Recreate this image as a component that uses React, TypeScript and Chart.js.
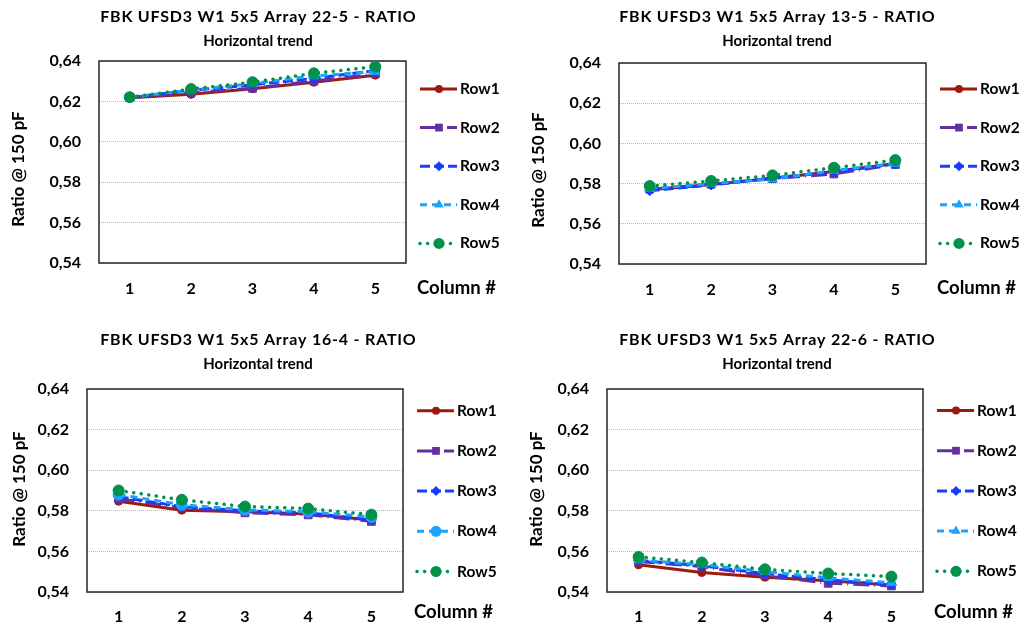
import React, { useEffect, useRef } from 'react';
import { Chart, registerables } from 'chart.js';
Chart.register(...registerables);

// ---------- data ----------
const columns = ['1', '2', '3', '4', '5'];
const rowNames = ['Row1', 'Row2', 'Row3', 'Row4', 'Row5'];
const yMin = 0.54;
const yMax = 0.64;
const yStep = 0.02;
const subtitle = 'Horizontal trend';
const xAxisLabel = 'Column #';
const yAxisLabel = 'Ratio @ 150 pF';

const title22_5 = 'FBK UFSD3 W1 5x5 Array 22-5 - RATIO';
const a22_5_row1 = [0.6218, 0.6235, 0.6263, 0.6295, 0.633];
const a22_5_row2 = [0.6219, 0.6243, 0.6265, 0.6301, 0.6336];
const a22_5_row3 = [0.622, 0.6254, 0.6282, 0.6314, 0.6352];
const a22_5_row4 = [0.622, 0.6256, 0.6288, 0.6326, 0.6347];
const a22_5_row5 = [0.6221, 0.6261, 0.6295, 0.6339, 0.6372];

const title13_5 = 'FBK UFSD3 W1 5x5 Array 13-5 - RATIO';
const a13_5_row1 = [0.577, 0.5795, 0.5826, 0.586, 0.59];
const a13_5_row2 = [0.5772, 0.5797, 0.5825, 0.5848, 0.5895];
const a13_5_row3 = [0.5765, 0.5793, 0.5828, 0.5858, 0.5898];
const a13_5_row4 = [0.5775, 0.58, 0.5822, 0.5865, 0.59];
const a13_5_row5 = [0.5788, 0.5813, 0.5841, 0.5879, 0.5917];

const title16_4 = 'FBK UFSD3 W1 5x5 Array 16-4 - RATIO';
const a16_4_row1 = [0.5847, 0.5803, 0.5795, 0.5784, 0.5755];
const a16_4_row2 = [0.586, 0.5815, 0.579, 0.578, 0.5748];
const a16_4_row3 = [0.5869, 0.582, 0.58, 0.579, 0.5755];
const a16_4_row4 = [0.588, 0.583, 0.5805, 0.5795, 0.577];
const a16_4_row5 = [0.59, 0.5854, 0.5821, 0.5811, 0.5781];

const title22_6 = 'FBK UFSD3 W1 5x5 Array 22-6 - RATIO';
const a22_6_row1 = [0.5534, 0.5496, 0.5473, 0.5455, 0.5435];
const a22_6_row2 = [0.555, 0.5525, 0.548, 0.5443, 0.543];
const a22_6_row3 = [0.5555, 0.553, 0.549, 0.546, 0.5435];
const a22_6_row4 = [0.5557, 0.5535, 0.55, 0.547, 0.5445];
const a22_6_row5 = [0.5573, 0.5545, 0.5512, 0.5491, 0.5476];

// ---------- styles ----------
const FONT = 'Lato, "Open Sans", sans-serif';
const rowStyles = [
  { color: '#9B1B0E', dash: [] as number[], point: 'circle', r: 4, width: 3, cap: 'butt' },
  { color: '#6430A0', dash: [16, 5, 1, 5], point: 'rect', r: 5.5, width: 3, cap: 'butt' },
  { color: '#1A3CFF', dash: [10, 4], point: 'rectRot', r: 5, width: 3, cap: 'butt' },
  { color: '#1AA3FF', dash: [7, 5], point: 'triangle', r: 5.5, width: 3, cap: 'butt' },
  { color: '#00924A', dash: [0.1, 7.5], point: 'circle', r: 5.5, width: 3.5, cap: 'round' },
];

const W = 512;
const H = 313;

type Cfg = {
  x: number; y: number; title: string; rows: number[][]; row4Circle?: boolean;
  L: number; R: number; T: number; B: number;
  titleX: number; titleY1: number; titleY2: number;
  yTitleX: number; yTitleY: number;
  legendY0: number; legendStep: number; xLabelY: number; tickPad: number;
};

const panels: Cfg[] = [
  {
    x: 0, y: 0, title: title22_5,
    rows: [a22_5_row1, a22_5_row2, a22_5_row3, a22_5_row4, a22_5_row5],
    L: 99, R: 406, T: 61, B: 263, titleX: 258, titleY1: 17, titleY2: 41,
    yTitleX: 19, yTitleY: 169, legendY0: 89, legendStep: 38.6, xLabelY: 288, tickPad: 16,
  },
  {
    x: 512, y: 0, title: title13_5,
    rows: [a13_5_row1, a13_5_row2, a13_5_row3, a13_5_row4, a13_5_row5],
    L: 107, R: 414, T: 63, B: 264, titleX: 265, titleY1: 17, titleY2: 41,
    yTitleX: 27, yTitleY: 170, legendY0: 89, legendStep: 38.6, xLabelY: 288, tickPad: 16,
  },
  {
    x: 0, y: 313, title: title16_4, row4Circle: true,
    rows: [a16_4_row1, a16_4_row2, a16_4_row3, a16_4_row4, a16_4_row5],
    L: 87, R: 403, T: 76, B: 279, titleX: 258, titleY1: 27, titleY2: 51,
    yTitleX: 20, yTitleY: 176, legendY0: 97.7, legendStep: 40.2, xLabelY: 299, tickPad: 15,
  },
  {
    x: 512, y: 313, title: title22_6,
    rows: [a22_6_row1, a22_6_row2, a22_6_row3, a22_6_row4, a22_6_row5],
    L: 95, R: 411, T: 76, B: 279, titleX: 265, titleY1: 27, titleY2: 51,
    yTitleX: 25, yTitleY: 176, legendY0: 97.5, legendStep: 40.2, xLabelY: 299, tickPad: 15,
  },
];

function drawMarker(ctx: CanvasRenderingContext2D, style: string, x: number, y: number, r: number) {
  ctx.beginPath();
  if (style === 'circle') ctx.arc(x, y, r, 0, Math.PI * 2);
  else if (style === 'rect') {
    const s = r * Math.SQRT1_2;
    ctx.rect(x - s, y - s, 2 * s, 2 * s);
  } else if (style === 'rectRot') {
    ctx.moveTo(x - r, y); ctx.lineTo(x, y - r); ctx.lineTo(x + r, y); ctx.lineTo(x, y + r); ctx.closePath();
  } else if (style === 'triangle') {
    const a = (2 * Math.PI) / 3;
    ctx.moveTo(x, y - r);
    ctx.lineTo(x + r * Math.sin(a), y - r * Math.cos(a));
    ctx.lineTo(x + r * Math.sin(2 * a), y - r * Math.cos(2 * a));
    ctx.closePath();
  }
  ctx.fill();
}

const decorPlugin = {
  id: 'decor',
  beforeDatasetsDraw(chart: any) {
    const { ctx, chartArea: a } = chart;
    ctx.save();
    ctx.strokeStyle = '#262626';
    ctx.lineWidth = 1.5;
    ctx.setLineDash([]);
    ctx.strokeRect(a.left, a.top, a.right - a.left, a.bottom - a.top);
    ctx.restore();
  },
  afterDraw(chart: any, _a: any, opts: any) {
    const { ctx, chartArea: a } = chart;
    const cfg: Cfg = opts.cfg;
    ctx.save();
    ctx.fillStyle = '#000';
    ctx.textBaseline = 'middle';
    ctx.textAlign = 'center';
    ctx.font = `bold 16px ${FONT}`;
    (ctx as any).letterSpacing = '0.8px';
    ctx.fillText(cfg.title, cfg.titleX + 0.4, cfg.titleY1);
    (ctx as any).letterSpacing = '0px';
    ctx.font = `bold 15px ${FONT}`;
    ctx.fillText(subtitle, cfg.titleX, cfg.titleY2);

    ctx.save();
    ctx.translate(cfg.yTitleX, cfg.yTitleY);
    ctx.rotate(-Math.PI / 2);
    ctx.font = `bold 17px ${FONT}`;
    ctx.fillText(yAxisLabel, 0, 0);
    ctx.restore();

    ctx.textAlign = 'left';
    ctx.font = `bold 18.5px ${FONT}`;
    ctx.fillText(xAxisLabel, a.right + 11, cfg.xLabelY);

    for (let i = 0; i < rowNames.length; i++) {
      const s = rowStyles[i];
      const y = cfg.legendY0 + i * cfg.legendStep;
      const x0 = a.right + 14;
      ctx.strokeStyle = s.color;
      ctx.fillStyle = s.color;
      ctx.lineWidth = s.width;
      ctx.lineCap = s.cap;
      ctx.setLineDash(s.dash);
      ctx.beginPath();
      ctx.moveTo(x0, y);
      ctx.lineTo(x0 + 37, y);
      ctx.stroke();
      ctx.setLineDash([]);
      const ps = i === 3 && cfg.row4Circle ? 'circle' : s.point;
      drawMarker(ctx, ps, x0 + 19, y, s.r);
      ctx.fillStyle = '#000';
      ctx.font = `bold 15.5px ${FONT}`;
      ctx.fillText(rowNames[i], a.right + 54, y);
    }
    ctx.restore();
  },
};

function Panel({ cfg }: { cfg: Cfg }) {
  const ref = useRef<HTMLCanvasElement>(null);
  useEffect(() => {
    const chart = new Chart(ref.current as HTMLCanvasElement, {
      type: 'line',
      data: {
        labels: columns,
        datasets: cfg.rows.map((vals, i) => {
          const s = rowStyles[i];
          const ps = i === 3 && cfg.row4Circle ? 'circle' : s.point;
          return {
            label: rowNames[i],
            data: vals,
            borderColor: s.color,
            backgroundColor: s.color,
            borderWidth: s.width,
            borderDash: s.dash,
            borderCapStyle: s.cap as any,
            pointStyle: ps as any,
            pointRadius: s.r,
            pointBorderWidth: 1,
            pointBorderColor: s.color,
            pointBackgroundColor: s.color,
            order: 5 - i,
            tension: 0,
            fill: false,
          };
        }),
      },
      options: {
        responsive: false,
        animation: false,
        layout: { padding: { left: 0, top: cfg.T, right: W - cfg.R, bottom: 0 } },
        plugins: {
          legend: { display: false },
          title: { display: false },
          tooltip: { enabled: false },
          decor: { cfg },
        } as any,
        scales: {
          x: {
            offset: true,
            grid: { display: false, drawTicks: false },
            border: { display: false },
            ticks: { color: '#000', padding: cfg.tickPad, font: { family: FONT, size: 16, weight: 'bold' } },
            afterFit: (scale: any) => { scale.height = H - cfg.B; },
          },
          y: {
            min: yMin,
            max: yMax,
            grid: { color: '#b8b8b8', lineWidth: 1, drawTicks: false },
            border: { display: false, dash: [1, 1] },
            ticks: {
              stepSize: yStep,
              color: '#000',
              padding: 18,
              font: { family: FONT, size: 16, weight: 'bold' },
              callback: (v: any) => Number(v).toFixed(2).replace('.', ','),
            },
            afterFit: (scale: any) => { scale.width = cfg.L; },
          },
        },
      },
      plugins: [decorPlugin],
    } as any);
    return () => chart.destroy();
  }, []);
  return (
    <canvas
      ref={ref}
      width={W}
      height={H}
      style={{ position: 'absolute', left: cfg.x, top: cfg.y, width: W, height: H }}
    />
  );
}

export default function App() {
  return (
    <div style={{ position: 'absolute', left: 0, top: 0, width: 1024, height: 626, background: '#fff' }}>
      {panels.map((p, i) => (
        <Panel key={i} cfg={p} />
      ))}
    </div>
  );
}
